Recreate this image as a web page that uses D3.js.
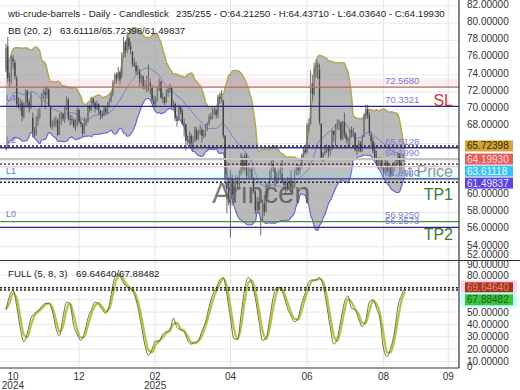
<!DOCTYPE html>
<html>
<head>
<meta charset="utf-8">
<script src="https://cdn.jsdelivr.net/npm/d3@7"></script>
<style>
body{margin:0;background:#fff}
svg{display:block;font-family:"Liberation Sans",Arial,sans-serif}
</style>
</head>
<body>
<svg id="chart" width="520" height="390"></svg>
<script>
// ---- data (daily bars, 7 Oct 2024 -> end Aug 2025) ----
const priorCloses=[65.75,67.31,68.97,68.65,70.09,71.19,70.91,71.95,71.92,70.37,71.56,69.69,67.67,68.18,68.17,69.83,70.10,73.71,74.38];

const opens=[
 74.50,77.30,73.50,73.20,75.90,75.40,73.60,70.60,70.40,70.70,69.20,70.50,72.10,70.80,70.20,69.00,67.40,67.30,68.60,
 69.30,70.50,71.50,72.00,71.70,72.30,70.30,68.00,68.10,68.40,68.70,67.10,69.20,69.40,68.90,70.10,71.10,68.90,68.80,68.70,
 68.00,68.10,69.90,68.50,68.30,67.30,68.30,68.60,70.30,70.00,71.20,70.70,70.10,70.60,69.90,69.40,69.30,70.10,69.60,70.60,71.00,
 71.80,73.10,74.00,73.50,74.30,73.90,76.10,77.80,76.90,78.20,77.30,76.60,75.30,75.10,74.40,74.40,73.20,73.80,72.60,72.70,
 72.90,73.10,72.50,71.00,70.70,71.10,72.30,73.30,71.40,71.30,70.90,71.90,72.20,72.50,70.40,70.60,68.90,68.80,70.30,
 69.80,68.40,68.20,66.30,66.40,66.90,66.00,66.30,67.60,66.60,67.20,67.60,66.90,67.20,68.00,68.30,69.10,69.00,69.70,69.90,69.40,
 71.40,71.20,71.00,66.90,61.50,60.80,58.50,62.00,60.20,61.50,61.60,61.30,62.50,64.40,63.10,64.60,62.30,62.80,63.00,62.00,60.40,
 58.30,59.20,57.00,57.20,59.00,58.10,59.90,61.10,62.00,63.60,63.10,61.60,62.30,62.70,62.50,61.60,61.20,61.50,60.90,61.80,60.90,
 60.90,62.50,63.40,62.90,63.40,64.60,65.30,65.00,68.10,68.30,73.00,71.80,74.80,75.10,74.60,68.30,64.40,64.90,65.20,65.50,
 65.10,65.50,67.50,66.50,67.90,68.30,68.40,66.60,68.50,67.00,66.50,66.40,67.50,67.30,67.20,65.30,65.20,66.00,65.20,66.80,69.20,70.00,
 69.30,67.00,66.30,65.20,64.40,63.90,63.90,64.00,63.20,62.70,63.90,62.90,63.40,62.40,63.20,63.50,63.70,64.80,63.30,64.10,64.2125];
const highs=[
 77.60,78.40,74.20,76.20,76.30,75.70,73.90,71.40,71.20,71.00,70.80,72.30,72.30,71.20,72.00,69.60,67.90,69.20,70.00,
 70.20,71.90,72.30,72.70,72.60,72.40,70.40,68.70,69.00,69.20,68.90,69.50,69.70,69.60,70.40,71.50,71.30,69.40,69.30,69.00,
 68.80,70.20,70.10,68.90,68.40,69.10,68.90,70.50,70.50,71.40,71.30,70.90,71.00,70.70,69.90,69.80,70.30,70.30,70.80,71.30,72.00,
 73.40,74.20,74.30,74.90,74.40,76.60,78.40,78.00,78.80,78.40,77.90,76.80,75.90,75.50,75.10,74.70,74.00,73.90,73.40,73.90,
 75.20,73.60,72.80,71.60,71.50,72.60,73.60,73.30,71.90,71.50,72.30,72.50,73.00,72.60,71.00,70.80,69.20,70.50,70.40,
 70.10,68.90,68.30,66.90,67.40,67.20,66.90,68.00,67.90,67.60,68.20,67.90,67.60,68.30,68.50,69.40,69.60,70.10,70.20,70.00,71.70,
 71.90,72.20,71.10,67.00,63.90,62.10,62.90,62.40,61.90,62.30,62.10,62.90,64.90,64.60,64.90,64.90,63.40,63.20,63.30,62.10,60.60,
 59.80,59.70,57.40,59.50,60.00,61.40,61.40,62.90,64.00,64.10,63.30,62.70,63.00,63.50,64.20,61.80,61.80,62.10,62.10,62.90,61.70,
 63.00,63.60,63.60,63.50,64.80,65.70,65.60,68.40,68.90,74.50,74.00,75.40,75.80,75.50,75.30,68.40,65.00,65.60,65.90,65.60,
 65.70,67.60,67.50,68.30,68.80,68.80,68.50,68.60,69.60,67.30,66.80,67.70,68.00,67.80,67.30,65.70,66.40,66.30,67.00,69.50,70.50,70.50,
 69.60,67.40,66.80,66.10,65.20,64.30,64.40,64.10,63.30,64.20,64.00,63.70,63.50,63.80,63.90,64.20,65.00,64.90,64.30,64.90,64.4371];
const lows=[
 74.30,73.10,72.50,72.90,74.70,73.40,70.20,70.10,69.80,68.60,68.90,70.20,70.20,69.60,70.00,66.70,66.70,66.90,68.10,
 68.90,70.30,71.20,70.00,71.20,70.30,67.80,67.60,67.90,67.90,66.90,67.00,68.20,68.60,68.40,69.90,68.70,68.10,68.20,67.80,
 67.50,68.00,68.30,67.90,66.90,67.10,68.00,68.40,69.60,69.80,70.40,69.60,69.90,69.30,68.80,68.90,69.20,69.40,69.40,70.20,70.80,
 71.50,72.90,73.00,73.30,72.90,73.60,76.00,76.00,76.50,76.90,76.40,74.90,74.90,74.00,74.00,72.60,72.90,72.30,72.30,72.00,
 72.10,71.70,70.90,70.40,70.20,70.90,72.10,71.20,70.70,70.50,70.70,71.40,71.90,70.20,70.10,68.60,68.00,68.60,69.40,
 68.20,66.80,65.20,65.80,65.90,65.60,65.20,66.20,66.30,66.40,67.00,66.10,66.60,66.80,67.50,68.10,68.70,68.80,69.30,68.90,69.00,
 70.60,70.80,66.60,60.90,57.90,58.80,55.10,58.80,59.40,60.70,60.80,60.80,62.30,62.60,62.80,61.80,61.90,62.00,61.90,60.20,57.80,
 57.90,57.80,55.30,57.00,57.60,58.00,59.70,61.00,61.80,62.70,60.90,61.30,61.50,61.90,61.40,60.60,60.20,60.50,60.80,60.40,60.20,
 60.80,62.30,62.30,62.40,63.10,64.40,64.70,64.90,67.30,68.20,71.00,71.60,73.70,73.50,68.20,64.20,63.90,64.60,64.90,64.40,
 64.60,65.20,66.20,65.70,67.60,67.60,66.30,66.40,66.70,66.10,65.60,65.80,66.70,66.80,65.10,64.70,65.00,65.00,65.00,66.70,68.80,68.90,
 66.90,65.60,64.90,64.20,63.50,63.00,63.10,62.90,62.10,62.40,62.60,62.10,62.10,62.30,62.80,63.20,63.60,63.00,63.10,63.90,64.0364];
const closes=[
 77.14,73.57,73.24,75.85,75.56,73.83,70.58,70.39,70.67,69.22,70.56,72.09,70.77,70.19,71.78,67.38,67.21,68.61,69.26,
 69.49,71.47,71.99,71.69,72.36,70.38,68.04,68.12,68.43,68.70,67.02,69.16,69.39,68.87,70.10,71.24,68.94,68.77,68.72,68.00,
 68.10,69.94,68.54,68.30,67.20,68.37,68.59,70.29,70.02,71.29,70.71,70.08,70.58,69.91,69.46,69.24,70.10,69.62,70.60,70.99,71.72,
 73.13,73.96,73.56,74.25,73.32,76.00,77.80,76.80,78.20,77.30,77.00,75.30,75.10,74.40,74.60,73.17,73.77,72.62,72.73,72.53,
 73.16,72.70,71.03,70.61,71.00,72.32,73.32,71.37,71.29,70.74,71.85,72.25,72.48,70.40,70.70,68.93,68.62,70.35,69.76,
 68.37,68.26,66.31,66.36,67.04,66.03,66.25,67.68,66.55,67.18,67.58,66.90,67.16,68.07,68.28,69.11,69.00,69.65,69.92,69.36,71.48,
 71.20,71.71,66.95,61.99,60.70,59.58,62.35,60.07,61.50,61.53,61.33,62.47,64.68,63.08,64.67,62.27,62.79,63.02,62.05,60.42,58.21,
 59.24,58.29,57.13,59.09,58.07,59.91,61.02,61.95,63.67,63.15,61.62,62.49,62.69,62.56,61.57,61.20,61.53,60.89,61.84,60.94,60.79,
 62.52,63.41,62.85,63.37,64.58,65.29,64.98,68.15,68.04,72.98,71.77,74.84,75.14,74.93,68.51,64.37,64.92,65.24,65.52,65.11,
 65.45,67.45,67.00,67.93,68.33,68.38,66.57,68.45,66.98,66.52,66.38,67.54,67.34,67.20,65.31,65.25,66.03,65.16,66.71,69.21,70.00,69.26,
 67.33,66.29,65.16,64.35,63.88,63.88,63.96,63.17,62.65,63.96,62.80,63.42,62.35,63.21,63.52,63.66,64.80,63.25,64.15,64.60,64.1993];

// stochastic %K, one reading every 2nd bar
const stochStep=2;
const stochK=[52,63,67.5,55,37,26,33,45,49,51,54.5,57,57,51,37,31,46,58,56,39,
 32,27,33,45,52,58,56.5,52,49,56,72,81,79,73.5,70,68.5,64.5,54,39,23,
 15,20,26.5,26.5,32,34,35.5,45,37.5,35.5,34,27,24,25.5,27,34.5,42,54,64,69.5,
 76,78,64,45,28,28,48,69,78,73.5,61,43,27,29,44,62,70,69.7,63,53,
 47,42,45.5,57,65.5,74.6,76,76,78,71.5,56,38,24,29,43.5,58,63,53,52,44.5,
 38,44,58,60,53,44,20,14,21,33,54,63.5,69.6];

const monthLabels=['10','12','02','04','06','08','09'];
const monthBars=[3.9,41,83.7,126,169,212,248.3];
const yearLabels=['2024','','2025','','','',''];

const bbLast=[63.61118,65.72398,61.49837];
const stochLast=[69.64640,67.88482];
const ohlcLast={o:64.21250,h:64.43710,l:64.03640,c:64.19930};

const levelValues=[72.5680,70.3321,65.5128,64.1990,61.8940,56.9250,56.2573];
const levelNames=['72.5680','70.3321','65.5128','64.1990','61.8940','56.9250','56.2573'];
const tagNames=['SL','At Price','TP1','TP2'];
const tagLevels=[70.3321,64.1990,61.8940,56.2573];
const lNames=['L4','L2','L1','L0'];
const lLevels=[70.3321,65.5128,61.8940,56.9250];

// ---- layout ----
const plotR=459, mainBot=260, subTop=261, subBot=368;
const svg=d3.select('#chart');
const f5=d3.format('.5f');

const x=d3.scaleLinear().domain([0,closes.length-1]).range([6,405]);
const y=d3.scaleLinear().domain([52,82]).range([264,6]);
const ys=d3.scaleLinear().domain([0,90]).range([373.7,262.7]);

const defs=svg.append('defs');
defs.append('clipPath').attr('id','clipMain').append('rect').attr('x',0).attr('y',0).attr('width',plotR).attr('height',mainBot);
defs.append('clipPath').attr('id','clipSub').append('rect').attr('x',0).attr('y',subTop).attr('width',plotR).attr('height',subBot-subTop);

const main=svg.append('g').attr('clip-path','url(#clipMain)');
const sub=svg.append('g').attr('clip-path','url(#clipSub)');

// grids
main.selectAll('line.hg').data(d3.range(52,83,2)).enter().append('line')
  .attr('x1',0).attr('x2',plotR).attr('y1',d=>y(d)).attr('y2',d=>y(d))
  .attr('stroke','#e9e9e9');
sub.selectAll('line.hg').data(d3.range(10,91,10)).enter().append('line')
  .attr('x1',0).attr('x2',plotR).attr('y1',d=>ys(d)).attr('y2',d=>ys(d))
  .attr('stroke','#e9e9e9');
[main,sub].forEach(g=>{
  g.selectAll('line.vg').data(monthBars.slice(1)).enter().append('line')
    .attr('x1',d=>x(d)).attr('x2',d=>x(d)).attr('y1',0).attr('y2',subBot)
    .attr('stroke','#e4e4e4');
});

// "At Price" tag sits under the band
const tagOffset={'SL':-6,'At Price':12,'TP1':15,'TP2':7};
const tagColor={'SL':'#cc3333','At Price':'#8a8a8a','TP1':'#3d7a31','TP2':'#3d7a31'};

main.append('text').attr('x',453).attr('y',y(tagLevels[1])+tagOffset['At Price'])
  .attr('dy','0.35em').attr('text-anchor','end').attr('font-size',16)
  .attr('fill',tagColor['At Price']).text(tagNames[1]);

// bollinger bands (20, 2)
const allCloses=priorCloses.concat(closes);
const bb=closes.map((c,i)=>{
  const w=allCloses.slice(i,i+20), m=d3.mean(w);
  const sd=Math.sqrt(d3.mean(w,v=>(v-m)*(v-m)));
  return {i:i,mid:m,up:m+2*sd,lo:m-2*sd};
});
main.append('path').datum(bb)
  .attr('d',d3.area().x(d=>x(d.i)).y0(d=>y(d.lo)).y1(d=>y(d.up)).curve(d3.curveMonotoneX))
  .attr('fill','#999').attr('fill-opacity',0.68);
main.append('path').datum(bb)
  .attr('d',d3.line().x(d=>x(d.i)).y(d=>y(d.mid)).curve(d3.curveMonotoneX))
  .attr('fill','none').attr('stroke','#5d6fd0').attr('stroke-width',0.9).attr('opacity',0.85);
main.append('path').datum(bb)
  .attr('d',d3.line().x(d=>x(d.i)).y(d=>y(d.lo)).curve(d3.curveMonotoneX))
  .attr('fill','none').attr('stroke','#6a66d4').attr('stroke-width',1.2);
main.append('path').datum(bb)
  .attr('d',d3.line().x(d=>x(d.i)).y(d=>y(d.up)).curve(d3.curveMonotoneX))
  .attr('fill','none').attr('stroke','#b3a655').attr('stroke-width',1.5);

// candles
const bars=closes.map((c,i)=>({i:i,o:opens[i],h:highs[i],l:lows[i],c:c}));
const cg=main.append('g');
cg.selectAll('line').data(bars).enter().append('line')
  .attr('x1',d=>x(d.i)).attr('x2',d=>x(d.i))
  .attr('y1',d=>y(d.h)).attr('y2',d=>y(d.l))
  .attr('stroke','#5a5a5a').attr('stroke-width',0.9);
cg.selectAll('rect').data(bars).enter().append('rect')
  .attr('x',d=>x(d.i)-0.7).attr('width',1.4)
  .attr('y',d=>y(Math.max(d.o,d.c)))
  .attr('height',d=>Math.max(0.8,Math.abs(y(d.o)-y(d.c))))
  .attr('fill',d=>d.c>=d.o?'#777':'#444');

// zones
main.append('rect').attr('x',0).attr('width',plotR)
  .attr('y',y(73.6)).attr('height',y(levelValues[0])-y(73.6))
  .attr('fill','#ff9fb4').attr('fill-opacity',0.18);
main.append('rect').attr('x',0).attr('width',plotR)
  .attr('y',y(63.33)).attr('height',y(bbLast[2])-y(63.33))
  .attr('fill','#8ff0f0').attr('fill-opacity',0.15);
main.append('line').attr('x1',0).attr('x2',plotR).attr('y1',y(63.33)).attr('y2',y(63.33))
  .attr('stroke','#f7b8cc').attr('stroke-width',1.2);

// level lines
const levelStyle={'72.5680':['#a8705a',1.4],'70.3321':['#25258f',1.4],'65.5128':['#30309a',1.4],
  '64.1990':['#c4c4c4',2],'61.8940':['#30309a',1.4],'56.9250':['#4f8f3a',1.4],'56.2573':['#25258f',1.4]};
main.selectAll('line.lvl').data(levelValues).enter().append('line')
  .attr('x1',0).attr('x2',plotR).attr('y1',d=>y(d)).attr('y2',d=>y(d))
  .attr('stroke',(d,i)=>levelStyle[levelNames[i]][0])
  .attr('stroke-width',(d,i)=>levelStyle[levelNames[i]][1]);

// dashed lines at the current bollinger values
main.selectAll('line.bbl').data(bbLast).enter().append('line')
  .attr('x1',0).attr('x2',plotR).attr('y1',d=>y(d)).attr('y2',d=>y(d))
  .attr('stroke','#222').attr('stroke-width',1.4).attr('stroke-dasharray','2,2');

// level labels
main.selectAll('text.lvl').data(levelValues).enter().append('text')
  .attr('x',385).attr('y',d=>y(d)-6.5).attr('dy','0.35em')
  .attr('font-size',9.5).attr('fill','#7b7bd6')
  .text((d,i)=>levelNames[i]);
main.selectAll('text.ln').data(lLevels).enter().append('text')
  .attr('x',6).attr('y',d=>y(d)-8).attr('dy','0.35em')
  .attr('font-size',9).attr('fill','#6f75cf')
  .text((d,i)=>lNames[i]);
[0,2,3].forEach(k=>{
  main.append('text').attr('x',453).attr('y',y(tagLevels[k])+tagOffset[tagNames[k]])
    .attr('dy','0.35em').attr('text-anchor','end').attr('font-size',16)
    .attr('fill',tagColor[tagNames[k]]).text(tagNames[k]);
});

// watermark
main.append('text').attr('x',212).attr('y',203).attr('font-size',29)
  .attr('fill','#505050').attr('fill-opacity',0.75).text('Arincen');

// stochastic
const kData=stochK.map((v,j)=>({i:j*stochStep,v:v}));
const dData=kData.map((d,j)=>({i:d.i,v:j?(stochK[j-1]+d.v)/2:d.v}));
const sl=d3.line().x(d=>x(d.i)).y(d=>ys(d.v)).curve(d3.curveMonotoneX);
sub.append('path').datum(dData).attr('d',sl)
  .attr('fill','none').attr('stroke','#a9c74a').attr('stroke-width',2.2);
sub.append('path').datum(kData).attr('d',sl)
  .attr('fill','none').attr('stroke','#7d5a1c').attr('stroke-width',0.9);
sub.selectAll('line.sl').data(stochLast).enter().append('line')
  .attr('x1',0).attr('x2',plotR).attr('y1',d=>ys(d)).attr('y2',d=>ys(d))
  .attr('stroke','#222').attr('stroke-width',1.4).attr('stroke-dasharray','2,2');

// frame
svg.append('line').attr('x1',0).attr('x2',520).attr('y1',260.5).attr('y2',260.5).attr('stroke','#333').attr('stroke-width',1.2);
svg.append('line').attr('x1',0).attr('x2',plotR).attr('y1',subBot).attr('y2',subBot).attr('stroke','#333').attr('stroke-width',1.2);
svg.append('line').attr('x1',plotR).attr('x2',plotR).attr('y1',0).attr('y2',subBot).attr('stroke','#333').attr('stroke-width',1.2);

// value boxes stacked on the axis, they hide the tick labels they sit on
function stack(vals,scale){
  const items=vals.map((v,k)=>({v:v,c:scale(v),k:k})).sort((a,b)=>a.c-b.c);
  items.forEach((d,k)=>{ if(k&&d.c<items[k-1].c+12) d.c=items[k-1].c+12; });
  return items;
}
const mainBoxes=stack([bbLast[1],ohlcLast.c,bbLast[0],bbLast[2]],y);
const subBoxes=stack(stochLast,ys);
const free=(c,items)=>items.every(b=>Math.abs(b.c-c)>7);

// right axes
const axMain=svg.append('g').attr('transform',`translate(${plotR},0)`)
  .call(d3.axisRight(y).tickValues(d3.range(52,83,2).filter(v=>free(y(v)-2,mainBoxes)))
    .tickFormat(f5).tickSize(0).tickPadding(8));
axMain.selectAll('text').attr('y',d=>Math.min(-2,254-y(d)));
const axSub=svg.append('g').attr('transform',`translate(${plotR},0)`)
  .call(d3.axisRight(ys).tickValues(d3.range(0,91,10).filter(v=>free(ys(v),subBoxes)))
    .tickFormat(d=>d?f5(d):'0').tickSize(0).tickPadding(8));
axSub.selectAll('text').attr('y',d=>Math.max(264-ys(d),Math.min(0,366-ys(d))));
[axMain,axSub].forEach(a=>{
  a.select('.domain').remove();
  a.selectAll('text').attr('font-size',10).attr('fill','#333').attr('font-family','"Liberation Sans",Arial,sans-serif');
});

function boxes(items,styles){
  const g=svg.append('g');
  items.forEach(d=>{
    const s=styles[d.k];
    if(s.glow) g.append('rect').attr('x',461).attr('y',d.c-7.5).attr('width',56).attr('height',15).attr('fill',s.glow);
    g.append('rect').attr('x',465).attr('y',d.c-5.5).attr('width',48).attr('height',11).attr('fill',s.bg);
    g.append('text').attr('x',467).attr('y',d.c).attr('dy','0.35em').attr('font-size',10)
      .attr('fill',s.fg).text(f5(d.v));
  });
}
boxes(mainBoxes,[
  {bg:'#cfa53c',fg:'#3b2a06'},{bg:'#e45c5c',fg:'#ffd6d6'},
  {bg:'#3ec3ef',fg:'#e9fbff'},{bg:'#5b43dd',fg:'#e6e4ff'}]);
boxes(subBoxes,[
  {bg:'#9b3a1c',fg:'#ff7a7a',glow:'#ffd3e4'},{bg:'#3cc53c',fg:'#1e5a1e',glow:'#c6ffff'}]);

// time axis
svg.selectAll('text.mo').data(monthBars).enter().append('text')
  .attr('x',d=>x(d)).attr('y',380).attr('text-anchor','middle')
  .attr('font-size',10).attr('fill','#333').text((d,i)=>monthLabels[i]);
svg.selectAll('text.yr').data(monthBars).enter().append('text')
  .attr('x',d=>x(d)).attr('y',389).attr('text-anchor','middle')
  .attr('font-size',10).attr('fill','#333').text((d,i)=>yearLabels[i]);

// legends
const lg=svg.append('g').attr('font-size',9.7).attr('fill','#222');
lg.append('text').attr('x',8).attr('y',16.5).text('wti-crude-barrels - Daily - Candlestick');
lg.append('text').attr('x',176).attr('y',16.5)
  .text(`235/255 - O:${f5(ohlcLast.o)} - H:${f5(ohlcLast.h)} - L:${f5(ohlcLast.l)} - C:${f5(ohlcLast.c)}`);
lg.append('text').attr('x',8).attr('y',33.5).text('BB (20, 2)');
lg.append('text').attr('x',60).attr('y',33.5).text(bbLast.map(f5).join('/'));
lg.append('text').attr('x',8).attr('y',276.5).text('FULL (5, 8, 3)');
lg.append('text').attr('x',76).attr('y',276.5).text(stochLast.map(f5).join('/'));
</script>
</body>
</html>
